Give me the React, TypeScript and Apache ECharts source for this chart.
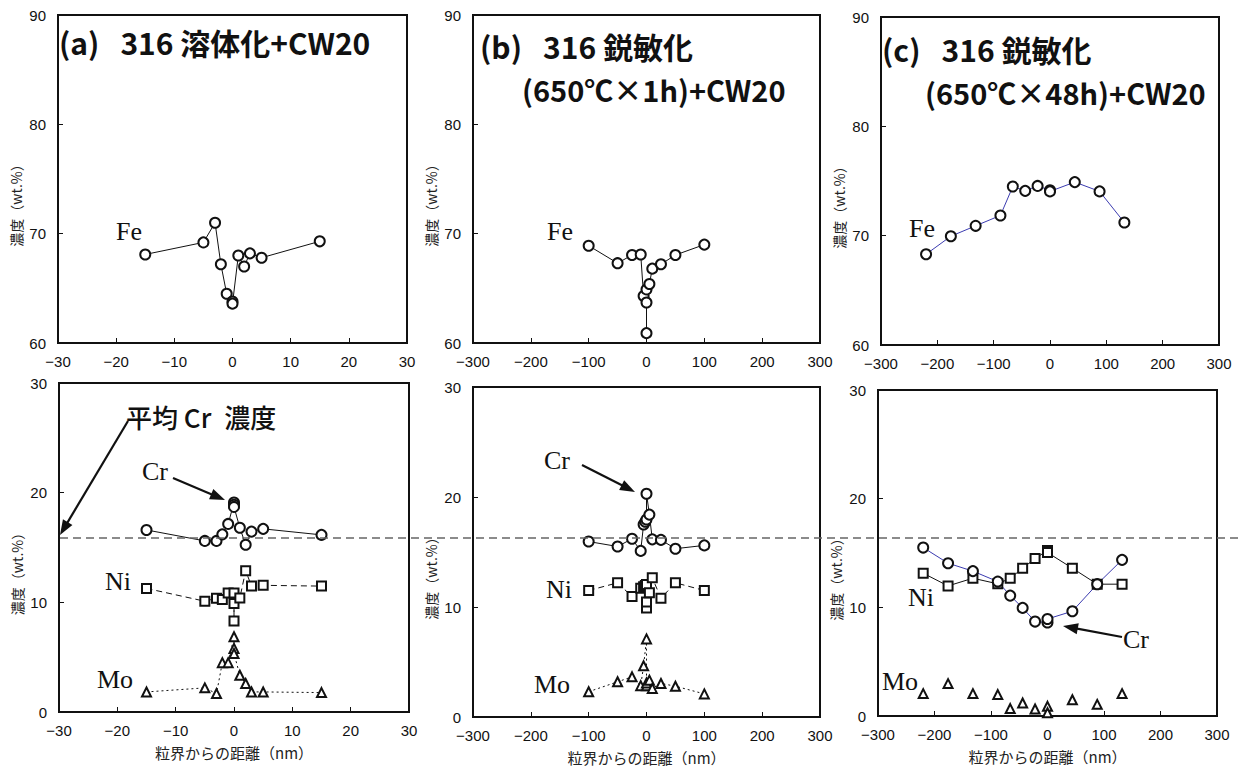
import React, { useEffect, useRef } from 'react';
import * as echarts from 'echarts';

// ---------- data ----------
// (a) 316 solution treated + CW20, x in nm
const aFeX = [-15, -5, -3, -2, -1, 0, 0, 1, 2, 3, 5, 15];
const aFe = [68.1, 69.2, 71.0, 67.2, 64.5, 63.8, 63.6, 68.0, 67.0, 68.2, 67.8, 69.3];
const aX = [-15, -5, -3, -2, -1, 0, 0, 0, 1, 2, 3, 5, 15];
const aCr = [16.6, 15.6, 15.6, 16.2, 17.15, 19.1, 18.9, 18.7, 16.8, 15.25, 16.45, 16.7, 16.15];
const aNi = [11.27, 10.1, 10.38, 10.25, 10.86, 10.86, 8.29, 9.9, 10.4, 12.88, 11.48, 11.55, 11.48];
const aMo = [1.83, 2.2, 1.68, 4.5, 4.5, 6.86, 5.8, 5.34, 3.35, 2.6, 1.83, 1.83, 1.77];

// (b) 316 sensitized 650C x 1h + CW20
const bFeX = [-100, -50, -25, -10, -5, 0, 0, 0, 5, 10, 25, 50, 100];
const bFe = [68.9, 67.3, 68.05, 68.1, 64.3, 63.7, 60.9, 64.9, 65.4, 66.8, 67.2, 68.05, 69.0];
const bCrX = [-100, -50, -25, -10, -5, -2, 0, 0, 5, 10, 25, 50, 100];
const bCr = [15.95, 15.5, 16.2, 15.1, 17.5, 17.75, 17.95, 20.3, 18.4, 16.15, 16.1, 15.3, 15.6];
const bNiX = [-100, -50, -25, -10, -5, -2, 0, 0, 0, 5, 10, 25, 50, 100];
const bNi = [11.5, 12.2, 10.95, 11.7, 11.85, 11.95, 12.05, 9.9, 10.45, 11.3, 12.65, 10.8, 12.2, 11.5];
const bMoX = [-100, -50, -25, -10, -5, 0, 0, 0, 5, 10, 25, 50, 100];
const bMo = [2.3, 3.2, 3.65, 2.85, 4.65, 7.1, 2.85, 3.1, 3.35, 2.6, 3.05, 2.8, 2.1];

// (c) 316 sensitized 650C x 48h + CW20
const cX = [-220, -176, -132, -88, -66, -44, -22, 0, 0, 44, 88, 132];
const cFe = [68.3, 69.95, 70.9, 71.85, 74.5, 74.1, 74.55, 74.15, 74.05, 74.9, 74.05, 71.2];
const cCr = [15.5, 14.06, 13.33, 12.37, 11.08, 9.95, 8.69, 8.6, 8.93, 9.64, 12.13, 14.37];
const cNi = [13.14, 11.97, 12.68, 12.16, 12.68, 13.6, 14.49, 15.23, 15.04, 13.6, 12.13, 12.13];
const cMo = [2.06, 2.98, 2.06, 1.97, 0.68, 1.2, 0.64, 0.89, 0.3, 1.5, 1.07, 2.06];

const titleA = '(a)\u2002\u2009316 溶体化+CW20';
const titleB1 = '(b)\u2002\u2009316 鋭敏化';
const titleB2 = '(650℃×1h)+CW20';
const titleC1 = '(c)\u2002\u2009316 鋭敏化';
const titleC2 = '(650℃×48h)+CW20';
const avgCrLabel = '平均 Cr\u2002濃度';
const yName = '濃度（wt.%）';
const xName = '粒界からの距離（nm）';

// ---------- layout ----------
const GRIDS = [
  { left: 58, top: 15, width: 349, height: 328 },
  { left: 473, top: 15, width: 347, height: 328 },
  { left: 881, top: 17, width: 338, height: 328 },
  { left: 59, top: 383, width: 350, height: 329 },
  { left: 473, top: 387, width: 347, height: 330 },
  { left: 878, top: 390, width: 339, height: 326 },
];
const X_RANGES = [
  [-30, 30, 10],
  [-300, 300, 100],
  [-300, 300, 100],
  [-30, 30, 10],
  [-300, 300, 100],
  [-300, 300, 100],
];

const INK = '#111';
const BLUE = '#3b3bb0';
const SANS = '"Liberation Sans", Arial, "Noto Sans CJK JP", sans-serif';
const CJK = '"Noto Sans CJK JP", "Liberation Sans", sans-serif';
const SERIF = '"Liberation Serif", "Times New Roman", serif';

function pts(xs: number[], ys: number[]) {
  return xs.map((x, i) => [x, ys[i]]);
}

function symSize(symbol: string) {
  if (symbol === 'emptyCircle') return 10;
  if (symbol === 'emptyRect') return 9;
  return 9;
}

function ser(gi: number, data: number[][], symbol: string, lineType: any, lineColor: string, showLine = true) {
  return {
    type: 'line',
    xAxisIndex: gi,
    yAxisIndex: gi,
    data,
    symbol,
    symbolSize: symSize(symbol),
    showAllSymbol: true,
    itemStyle: { color: INK, borderWidth: 0.9 },
    lineStyle: { color: lineColor, width: showLine ? 1 : 0, type: lineType, opacity: showLine ? 1 : 0 },
    z: 3,
  };
}

function arrow(x1: number, y1: number, x2: number, y2: number) {
  const dx = x2 - x1;
  const dy = y2 - y1;
  const L = Math.hypot(dx, dy);
  const ux = dx / L;
  const uy = dy / L;
  const hl = 15;
  const hw = 5.5;
  const bx = x2 - ux * hl;
  const by = y2 - uy * hl;
  return [
    { type: 'line', z: 100, shape: { x1, y1, x2: bx + ux * 2, y2: by + uy * 2 }, style: { stroke: INK, lineWidth: 2.2 } },
    {
      type: 'polygon',
      z: 100,
      shape: { points: [[x2, y2], [bx - uy * hw, by + ux * hw], [bx + uy * hw, by - ux * hw]] },
      style: { fill: INK },
    },
  ];
}

function txt(text: string, x: number, y: number, font: string) {
  return {
    type: 'text',
    z: 100,
    x,
    y,
    style: {
      text,
      x: 0,
      y: 0,
      font,
      fill: INK,
      align: 'left',
      verticalAlign: 'middle',
      textAlign: 'left',
      textVerticalAlign: 'middle',
    },
  };
}

export default function App() {
  const ref = useRef<HTMLDivElement>(null);

  useEffect(() => {
    if (!ref.current) return;
    const chart = echarts.init(ref.current, undefined, { renderer: 'svg' });

    const grids = GRIDS.map((g) => ({
      ...g,
      show: true,
      borderColor: INK,
      borderWidth: 2,
      backgroundColor: 'transparent',
    }));

    const xAxes = GRIDS.map((_, i) => ({
      type: 'value',
      gridIndex: i,
      min: X_RANGES[i][0],
      max: X_RANGES[i][1],
      interval: X_RANGES[i][2],
      axisLine: { show: true, onZero: false, lineStyle: { color: INK, width: 2 } },
      axisTick: { show: true, inside: true, length: 5, lineStyle: { color: INK, width: 1 } },
      splitLine: { show: false },
      axisLabel: {
        margin: 11,
        fontSize: 15,
        color: INK,
        fontFamily: SANS,
        formatter: (v: number) => String(v).replace('-', '\u2212'),
      },
      name: i >= 3 ? xName : '',
      nameLocation: 'middle',
      nameGap: 33,
      nameTextStyle: { color: '#222', fontSize: 15, fontFamily: CJK },
    }));

    const yAxes = GRIDS.map((_, i) => ({
      type: 'value',
      gridIndex: i,
      min: i < 3 ? 60 : 0,
      max: i < 3 ? 90 : 30,
      interval: 10,
      axisLine: { show: true, onZero: false, lineStyle: { color: INK, width: 2 } },
      axisTick: { show: true, inside: true, length: 5, lineStyle: { color: INK, width: 1 } },
      splitLine: { show: false },
      axisLabel: { margin: 12, fontSize: 15, color: INK, fontFamily: SANS },
      name: yName,
      nameLocation: 'middle',
      nameGap: 35,
      nameRotate: 90,
      nameTextStyle: { color: '#222', fontSize: 14, fontFamily: CJK, padding: [0, 46, 0, 0] },
    }));

    const series = [
      ser(0, pts(aFeX, aFe), 'emptyCircle', 'solid', INK),
      ser(1, pts(bFeX, bFe), 'emptyCircle', 'solid', INK),
      ser(2, pts(cX, cFe), 'emptyCircle', 'solid', BLUE),
      ser(3, pts(aX, aCr), 'emptyCircle', 'solid', INK),
      ser(3, pts(aX, aNi), 'emptyRect', [6, 4], INK),
      ser(3, pts(aX, aMo), 'emptyTriangle', [2, 3], INK),
      ser(4, pts(bCrX, bCr), 'emptyCircle', 'solid', INK),
      ser(4, pts(bNiX, bNi), 'emptyRect', [6, 4], INK),
      ser(4, pts(bMoX, bMo), 'emptyTriangle', [2, 3], INK),
      ser(5, pts(cX, cNi), 'emptyRect', 'solid', INK),
      ser(5, pts(cX, cCr), 'emptyCircle', 'solid', BLUE),
      ser(5, pts(cX, cMo), 'emptyTriangle', 'solid', INK, false),
    ];

    const titleFont = `bold 30px ${CJK}`;
    const title2Font = `bold 29px ${CJK}`;
    const labFont = `26px ${SERIF}`;

    const graphic = [
      {
        type: 'line',
        z: 50,
        shape: { x1: 60, y1: 538, x2: 1243, y2: 538 },
        style: { stroke: '#666', lineWidth: 1.5, lineDash: [8, 5] },
      },
      txt(titleA, 59, 42, titleFont),
      txt(titleB1, 480, 46, titleFont),
      txt(titleB2, 522, 89, title2Font),
      txt(titleC1, 882, 49, titleFont),
      txt(titleC2, 925, 92, title2Font),
      txt('Fe', 116, 231, labFont),
      txt('Fe', 547, 231, labFont),
      txt('Fe', 909, 228, labFont),
      txt('Cr', 142, 471, labFont),
      txt('Ni', 105, 581, labFont),
      txt('Mo', 97, 679, labFont),
      txt('Cr', 544, 460, labFont),
      txt('Ni', 546, 589, labFont),
      txt('Mo', 534, 684, labFont),
      txt('Ni', 908, 597, labFont),
      txt('Mo', 882, 681, labFont),
      txt('Cr', 1123, 639, labFont),
      txt(avgCrLabel, 126, 416, `500 26px ${CJK}`),
      ...arrow(128, 421, 60, 535),
      ...arrow(173, 478, 225, 500),
      ...arrow(582, 465, 635, 492),
      ...arrow(1122, 637, 1063, 626),
    ];

    chart.setOption({
      animation: false,
      backgroundColor: '#fff',
      grid: grids,
      xAxis: xAxes,
      yAxis: yAxes,
      series,
      graphic,
    });

    return () => {
      chart.dispose();
    };
  }, []);

  return (
    <div
      ref={ref}
      style={{ position: 'fixed', left: 0, top: 0, width: 1243, height: 772, background: '#fff' }}
    />
  );
}
